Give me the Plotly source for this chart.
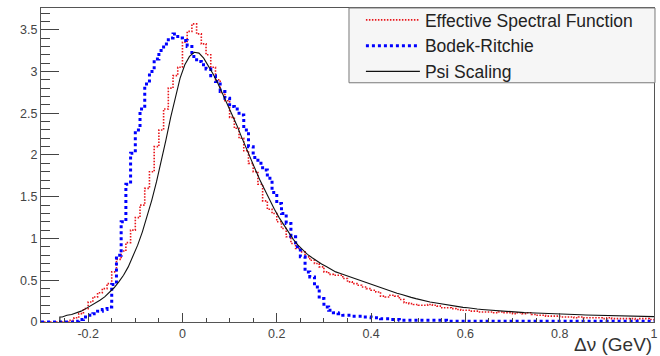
import numpy as np
import plotly.graph_objects as go

# bin edges of the histograms (GeV), width 0.01
edges = np.round(np.linspace(-0.30, 1.00, 131), 2)

# Effective Spectral Function (red), bins from -0.30
red_vals = [
    0, 0, 0, 0, 0, 0, 0.02, 0.05, 0.10, 0.16,
    0.24, 0.30, 0.35, 0.40, 0.46, 0.60, 0.75, 0.85, 0.95, 1.10,
    1.25, 1.40, 1.60, 1.80, 2.10, 2.30, 2.55, 2.80, 2.95, 3.05,
    3.35, 3.48, 3.57, 3.45, 3.33, 3.20, 3.05, 2.90, 2.75, 2.65,
    2.45, 2.32, 2.20, 2.05, 1.90, 1.80, 1.65, 1.45, 1.35, 1.30,
    1.20, 1.12, 1.02, 0.94, 0.88, 0.84, 0.78, 0.74, 0.70, 0.66,
    0.60, 0.57, 0.56, 0.56, 0.52, 0.48, 0.46, 0.44, 0.42, 0.40,
    0.38, 0.36, 0.31, 0.30, 0.32, 0.31, 0.27, 0.23, 0.22, 0.21,
    0.20, 0.20, 0.21, 0.20, 0.19, 0.17, 0.17, 0.16, 0.15, 0.14,
    0.14, 0.13, 0.13, 0.12, 0.12, 0.12, 0.11, 0.12, 0.11, 0.11,
    0.10, 0.11, 0.10, 0.11, 0.09, 0.08, 0.08, 0.07, 0.07, 0.07,
    0.06, 0.06, 0.06, 0.05, 0.06, 0.05, 0.05, 0.05, 0.05, 0.04,
    0.05, 0.04, 0.04, 0.04, 0.04, 0.04, 0.03, 0.04, 0.04, 0.03,
]

# Bodek-Ritchie (blue), bins from -0.30
blue_vals = [
    0, 0, 0, 0, 0, 0, 0, 0.01, 0.03, 0.06,
    0.08, 0.10, 0.13, 0.15, 0.18, 0.45, 0.80, 1.20, 1.65, 2.02,
    2.30, 2.55, 2.85, 3.00, 3.15, 3.25, 3.33, 3.40, 3.45, 3.40,
    3.37, 3.30, 3.18, 3.12, 3.08, 3.03, 2.95, 2.88, 2.76, 2.68,
    2.58, 2.55, 2.48, 2.30, 2.10, 1.97, 1.90, 1.82, 1.72, 1.55,
    1.42, 1.30, 1.18, 1.02, 0.90, 0.78, 0.60, 0.54, 0.42, 0.28,
    0.18, 0.14, 0.11, 0.10, 0.08, 0.08, 0.07, 0.07, 0.06, 0.06,
    0.05, 0.05, 0.04, 0.04, 0.03, 0.03, 0.02, 0.02, 0.02, 0.02,
    0.02, 0.02, 0.02, 0.02, 0.02, 0.02, 0.01, 0.01, 0.01, 0.01,
    0.01, 0.01, 0.01, 0.01, 0.01, 0.01, 0.01, 0.01, 0.01, 0.01,
    0.01, 0.01, 0.01, 0.01, 0.01, 0.01, 0.01, 0.01, 0.01, 0.01,
    0.01, 0.01, 0.01, 0.01, 0.01, 0.01, 0.01, 0.01, 0.01, 0.01,
    0.01, 0.01, 0.01, 0.01, 0.01, 0.01, 0.01, 0.01, 0.01, 0.01,
]

# Psi Scaling (black), bins from -0.26
psi_start = -0.26
psi_vals = [
    0.06, 0.08, 0.09, 0.11, 0.13, 0.16, 0.19, 0.22, 0.26, 0.30,
    0.35, 0.41, 0.48, 0.56, 0.66, 0.78, 0.92, 1.08, 1.26, 1.46,
    1.68, 1.92, 2.18, 2.45, 2.70, 2.92, 3.08, 3.18, 3.23, 3.22,
    3.16, 3.07, 2.97, 2.86, 2.74, 2.62, 2.49, 2.36, 2.22, 2.08,
    1.95, 1.82, 1.69, 1.57, 1.46, 1.35, 1.25, 1.16, 1.07, 0.99,
    0.92, 0.86, 0.81, 0.77, 0.73, 0.695, 0.665, 0.63, 0.60, 0.58,
    0.56, 0.54, 0.52, 0.50, 0.48, 0.46, 0.44, 0.42, 0.40, 0.38,
    0.36, 0.345, 0.33, 0.31, 0.295, 0.28, 0.265, 0.25, 0.24, 0.23,
    0.22, 0.21, 0.20, 0.19, 0.18, 0.175, 0.17, 0.16, 0.155, 0.15,
    0.145, 0.14, 0.135, 0.13, 0.125, 0.12, 0.118, 0.115, 0.112, 0.11,
    0.107, 0.104, 0.102, 0.10, 0.098, 0.096, 0.094, 0.092, 0.09, 0.088,
    0.086, 0.084, 0.082, 0.08, 0.078, 0.076, 0.075, 0.074, 0.072, 0.071,
    0.07, 0.068, 0.067, 0.066, 0.065, 0.064,
]

x_tickvals = [-0.2, 0, 0.2, 0.4, 0.6, 0.8, 1.0]
x_ticktext = ["-0.2", "0", "0.2", "0.4", "0.6", "0.8", "1"]
y_tickvals = [0, 0.5, 1, 1.5, 2, 2.5, 3, 3.5]
y_ticktext = ["0", "0.5", "1", "1.5", "2", "2.5", "3", "3.5"]


def step_xy(vals, start):
    i0 = int(np.argmin(np.abs(edges - start)))
    xs = list(edges[i0:i0 + len(vals) + 1])
    ys = list(vals) + [vals[-1]]
    return xs[:len(ys)], ys[:len(xs)]


fig = go.Figure()

rx, ry = step_xy(red_vals, -0.30)
fig.add_trace(go.Scatter(
    x=rx, y=ry, mode="lines", line_shape="hv",
    name="Effective Spectral Function",
    line=dict(color="#e8161b", width=1.6, dash="1.5px,1.5px"),
))

bx, by = step_xy(blue_vals, -0.30)
fig.add_trace(go.Scatter(
    x=bx, y=by, mode="lines", line_shape="hv",
    name="Bodek-Ritchie",
    line=dict(color="#0000ff", width=3, dash="3px,3px"),
))

# black drawn as a smooth line through bin centres, starting with a
# vertical rise at its first bin edge
i_psi = int(np.argmin(np.abs(edges - psi_start)))
psi_edges = edges[i_psi:i_psi + len(psi_vals) + 1]
psi_centres = list((psi_edges[:-1] + psi_edges[1:]) / 2)[:len(psi_vals)]
bk_x = [psi_edges[0], psi_edges[0]] + psi_centres + [psi_edges[-1]]
bk_y = [0, psi_vals[0]] + list(psi_vals[:len(psi_centres)]) + [psi_vals[-1]]
fig.add_trace(go.Scatter(
    x=bk_x, y=bk_y, mode="lines",
    name="Psi Scaling",
    line=dict(color="#111111", width=1.1),
))

font_main = "Liberation Sans, Arial, Helvetica, sans-serif"

W, H = 660, 356
ML, MR, MT, MB = 41, 2, 7, 34
pw, ph = W - ML - MR, H - MT - MB


def paper_x(px):
    return (px - ML) / pw


def paper_y(py):
    return (H - MB - py) / ph


fig.update_layout(
    width=W, height=H,
    margin=dict(l=ML, r=MR, t=MT, b=MB),
    paper_bgcolor="white", plot_bgcolor="white",
    font=dict(family=font_main, size=12, color="#333333"),
    showlegend=True,
    legend=dict(
        x=paper_x(363), xanchor="left", y=paper_y(1), yanchor="top",
        bgcolor="rgba(0,0,0,0)", borderwidth=0,
        font=dict(family=font_main, size=17.5, color="#222222"),
        itemwidth=54, tracegroupgap=0,
    ),
    shapes=[dict(
        type="rect", xref="paper", yref="paper", layer="above",
        x0=paper_x(351), x1=paper_x(659), y0=paper_y(82), y1=paper_y(7),
        fillcolor="#f6f6f6", line=dict(color="#7a7a7a", width=1),
    )],
    xaxis=dict(
        range=[-0.3, 1.0], showgrid=False, zeroline=False,
        showline=True, linecolor="#555555", linewidth=1, mirror=True,
        ticks="inside", ticklen=9, tickcolor="#444444",
        tickvals=x_tickvals, ticktext=x_ticktext,
        tickfont=dict(size=12.5, color="#444444"),
        ticklabeloverflow="allow",
        minor=dict(ticks="inside", ticklen=4, dtick=0.05, tick0=0,
                   tickcolor="#444444", showgrid=False),
    ),
    yaxis=dict(
        range=[0, 3.76], showgrid=False, zeroline=False,
        showline=True, linecolor="#555555", linewidth=1, mirror=True,
        ticks="inside", ticklen=18, tickcolor="#444444",
        tickvals=y_tickvals, ticktext=y_ticktext,
        tickfont=dict(size=12.5, color="#444444"),
        minor=dict(ticks="inside", ticklen=9, dtick=0.1, tick0=0,
                   tickcolor="#444444", showgrid=False),
    ),
    annotations=[dict(
        text="Δν (GeV)", xref="paper", yref="paper",
        x=1.0, y=paper_y(344.5), xanchor="right", yanchor="middle",
        showarrow=False, font=dict(family=font_main, size=19, color="#333333"),
    )],
)

fig.write_html("out.html", config={"displayModeBar": False},
               post_script="document.body.style.margin='0px';")
